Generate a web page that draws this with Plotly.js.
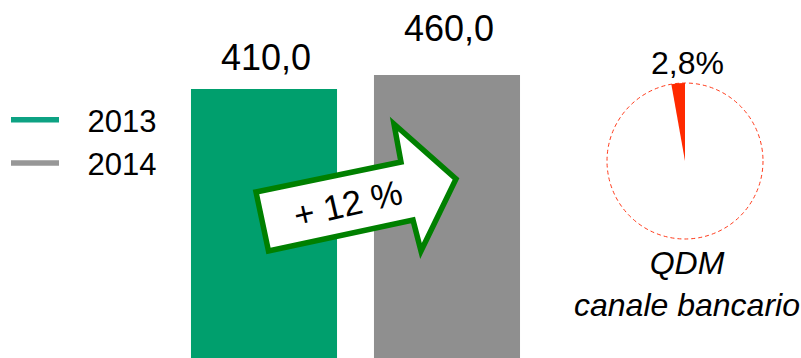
<!DOCTYPE html>
<html>
<head>
<meta charset="utf-8">
<script src="https://cdn.plot.ly/plotly-3.0.1.min.js"></script>
<style>html,body{margin:0;padding:0;background:#fff;}#chart{width:801px;height:358px;}</style>
</head>
<body>
<div id="chart"></div>
<script>
// ---- data ----
const years = ['2013', '2014'];
const values = [410.0, 460.0];
const pieLabels = ['QDM canale bancario', 'Altro'];
const pieShare = [2.8, 97.2];
const pieCaption = ['QDM', 'canale bancario'];

// ---- styles ----
const barColors = ['#009F6D', '#8F8F8F'];
const legendColors = ['#0DA283', '#979797'];
const FONT = 'Liberation Sans, Arial, Helvetica, sans-serif';
const W = 801, H = 358;
const px = x => x / W;
const py = y => 1 - y / H;
const fmt = v => v.toFixed(1).replace('.', ',');
const PAD = '\u00a0\u00a0\u2009';

const traces = [{
  type: 'bar',
  x: years,
  y: values,
  width: 0.798,
  marker: {color: barColors},
  showlegend: false,
  hovertemplate: '%{x}: %{y:.1f}<extra></extra>'
}];
years.forEach((yr, i) => {
  traces.push({
    type: 'scatter', mode: 'lines',
    x: [yr], y: [values[i]],
    name: PAD + yr,
    line: {color: legendColors[i], width: 5.5},
    hoverinfo: 'skip'
  });
});
const pieTotal = pieShare.reduce((a, b) => a + b, 0);
traces.push({
  type: 'pie',
  labels: pieLabels,
  values: pieShare,
  sort: false,
  direction: 'clockwise',
  rotation: -pieShare[0] / pieTotal * 360,
  textinfo: 'none',
  marker: {colors: ['#FF2A00', 'rgba(255,255,255,0)'], line: {width: 0}},
  domain: {x: [px(607), px(763)], y: [py(239), py(83)]},
  showlegend: false,
  hoverinfo: 'label+percent'
});

const growth = Math.round((values[1] / values[0] - 1) * 100);
const labelShift = [32, 47];

const annotations = values.map((v, i) => ({
  x: i, y: Math.log10(v), xref: 'x', yref: 'y',
  text: fmt(v), showarrow: false,
  xanchor: 'center', yanchor: 'middle', yshift: labelShift[i], xshift: 2,
  font: {family: FONT, size: 36, color: '#000'}
}));
annotations.push({
  x: px(348), y: py(204), xref: 'paper', yref: 'paper',
  xanchor: 'center', yanchor: 'middle',
  text: '+ ' + growth + ' %', showarrow: false, textangle: -13,
  font: {family: FONT, size: 35, color: '#000'}
});
annotations.push({
  x: px(687), y: py(63), xref: 'paper', yref: 'paper',
  xanchor: 'center', yanchor: 'middle',
  text: fmt(pieShare[0]) + '%', showarrow: false,
  font: {family: FONT, size: 32, color: '#000'}
});
annotations.push({
  x: px(687), y: py(284), xref: 'paper', yref: 'paper',
  xanchor: 'center', yanchor: 'middle',
  text: '<i>' + pieCaption.join('<br>') + '</i>', showarrow: false,
  font: {family: FONT, size: 32, color: '#000'}
});

const arrowPts = [[256,192],[401,162],[394,124],[456,179],[421,251],[413,220],[268.5,251]];
const arrowPath = 'M' + arrowPts.map(p => px(p[0]).toFixed(5) + ',' + py(p[1]).toFixed(5)).join(' L') + ' Z';

const layout = {
  width: W, height: H,
  margin: {l: 0, r: 0, t: 0, b: 0},
  paper_bgcolor: '#fff', plot_bgcolor: '#fff',
  xaxis: {type: 'category', range: [-1.4426, 2.9344], visible: false, fixedrange: true},
  yaxis: {type: 'log', range: [1.65241, 2.93053], visible: false, fixedrange: true},
  showlegend: true,
  legend: {
    x: px(6), y: py(93), xanchor: 'left', yanchor: 'top',
    font: {family: FONT, size: 31, color: '#000'},
    bgcolor: 'rgba(0,0,0,0)', itemwidth: 48, tracegroupgap: 0
  },
  shapes: [
    {type: 'path', xref: 'paper', yref: 'paper', path: arrowPath,
     fillcolor: '#FFFFFF', line: {color: '#008000', width: 5.5}, layer: 'above'},
    {type: 'circle', xref: 'paper', yref: 'paper',
     x0: px(607), x1: px(763), y0: py(239), y1: py(83),
     line: {color: '#FF3A1A', width: 1, dash: '4px,3px'}, layer: 'below'}
  ],
  annotations: annotations
};

Plotly.newPlot('chart', traces, layout, {displayModeBar: false, staticPlot: true});
</script>
</body>
</html>
